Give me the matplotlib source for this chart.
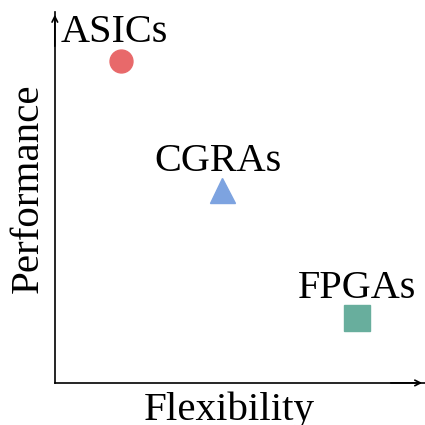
import matplotlib
matplotlib.use("Agg")
import matplotlib.pyplot as plt

plt.rcParams['font.family'] = ['Liberation Serif', 'DejaVu Serif']

names = ['ASICs', 'CGRAs', 'FPGAs']
flexibility = [0.178, 0.451, 0.816]
performance = [0.868, 0.52, 0.175]
label_dx = [-0.016, -0.009, 0.0]
label_dy = [0.051, 0.051, 0.054]
markers = ['o', '^', 's']
colors = ['#E8696A', '#7DA3E0', '#68AE9D']
sizes = [16.5, 18, 19]

fig = plt.figure(figsize=(4.25, 4.25), dpi=100)
ax = fig.add_axes([0.129, 0.099, 0.871, 0.873])
ax.set_xlim(0, 1)
ax.set_ylim(0, 1)

for i in range(len(names)):
    ax.plot(flexibility[i], performance[i], marker=markers[i], color=colors[i],
            markersize=sizes[i], linestyle='none')
    ax.text(flexibility[i] + label_dx[i], performance[i] + label_dy[i], names[i],
            ha='center', va='baseline', fontsize=29)

for sp in ['top', 'right']:
    ax.spines[sp].set_visible(False)
ax.spines['left'].set_linewidth(1.2)
ax.spines['bottom'].set_linewidth(1.2)
ax.set_xticks([])
ax.set_yticks([])

# arrow heads on the axes
ax.annotate('', xy=(0, 1.0), xytext=(0, 0.9), arrowprops=dict(arrowstyle='->', lw=1.2, color='black'),
            annotation_clip=False)
ax.annotate('', xy=(1.0, 0), xytext=(0.9, 0), arrowprops=dict(arrowstyle='->', lw=1.2, color='black'),
            annotation_clip=False)

ax.set_xlabel('Flexibility', fontsize=29.5, labelpad=6)
ax.set_ylabel('Performance', fontsize=29.5, labelpad=5.5)
ax.xaxis.label.set_x(0.47)
ax.yaxis.label.set_y(0.526)

fig.savefig('out.png', dpi=100)
